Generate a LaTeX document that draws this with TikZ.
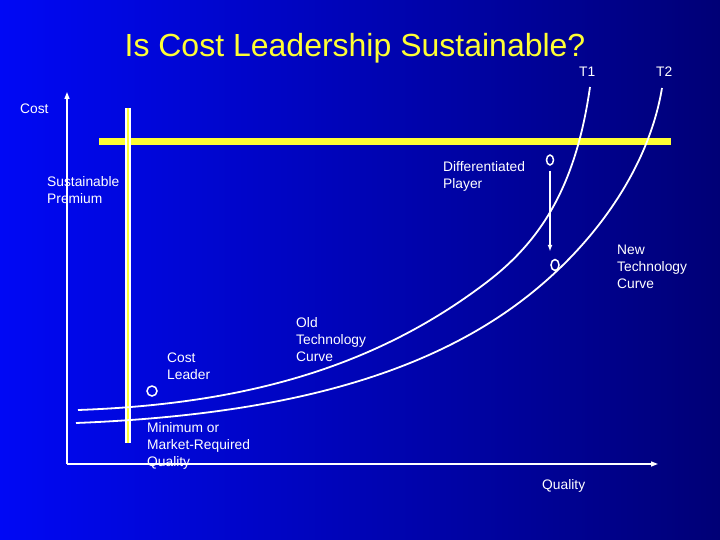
\documentclass[tikz,border=0pt]{standalone}
\usepackage{fontspec}
\setmainfont{Liberation Sans}
\usetikzlibrary{arrows.meta,shapes.geometric}
\definecolor{SlideLeft}{RGB}{0,8,245}
\definecolor{SlideRight}{RGB}{0,0,118}
\definecolor{BarYellow}{HTML}{FFFF33}

\begin{document}
\begin{tikzpicture}[x=1pt, y=-1pt,
  lbl/.style={text=white, font=\fontsize{13.8}{17}\selectfont, align=left,
    inner sep=0pt, anchor=north west},
  spot/.style={draw=white, line width=1.5pt, ellipse, inner sep=0pt},
  curve/.style={white, line width=1.8pt},
  axis/.style={white, line width=1.5pt, -{Triangle[length=7pt,width=5pt]}}]
  % background
  \shade[left color=SlideLeft, right color=SlideRight] (0,0) rectangle (720,540);
  \useasboundingbox (0,0) rectangle (720,540);
  \node[text=BarYellow, font=\fontsize{32}{36}\selectfont, inner sep=0pt, anchor=north]
    (title) at (355,33) {Is Cost Leadership Sustainable?};
  % axes
  \coordinate (o) at (67,464);
  \coordinate (ytop) at (67,92);
  \coordinate (xend) at (658,464);
  \draw[axis] (o) -- (ytop);
  \draw[axis] (o) -- (xend);
  % premium bar and minimum quality line
  \draw[BarYellow, line width=7pt] (99,142) -- (671,142);
  \draw[draw=white, double=BarYellow, double distance=2.6pt, line width=1.6pt] (128,108) -- (128,443);
  % technology curves
  \draw[curve] (78,410) .. controls (248,404) and (377,366) .. (487,282)
    .. controls (542,240) and (576,185) .. (590,87);
  \draw[curve] (76,423) .. controls (256,415.8) and (410,384.5) .. (520,302)
    .. controls (590,249.5) and (648,172) .. (662,88);
  % players
  \node[spot, minimum width=7pt, minimum height=10pt] (dp) at (550,160) {};
  \node[spot, minimum width=8pt, minimum height=11pt] (dpnew) at (555,265) {};
  \node[spot, minimum width=10pt, minimum height=10pt] (cl) at (152,391) {};
  \draw[white, line width=1.4pt, -{Latex[length=7pt,width=5pt]}, shorten <=5pt, shorten >=7pt]
    (dp.south) -- (dp.south |- dpnew.north);
  % labels
  \node[lbl] (t1) at (579,67) {T1};
  \node[lbl] (t2) at (656,67) {T2};
  \node[lbl] (cost) at (20,104) {Cost};
  \node[lbl] (prem) at (47,176) {Sustainable\\Premium};
  \node[lbl] (diff) at (443,161) {Differentiated\\Player};
  \node[lbl] (newtech) at (617,245) {New\\Technology\\Curve};
  \node[lbl] (oldtech) at (296,317) {Old\\Technology\\Curve};
  \node[lbl] (leader) at (167,353) {Cost\\Leader};
  \node[lbl] (minq) at (147,422) {Minimum or\\Market-Required\\Quality};
  \node[lbl] (qual) at (542,479) {Quality};
\end{tikzpicture}
\end{document}
